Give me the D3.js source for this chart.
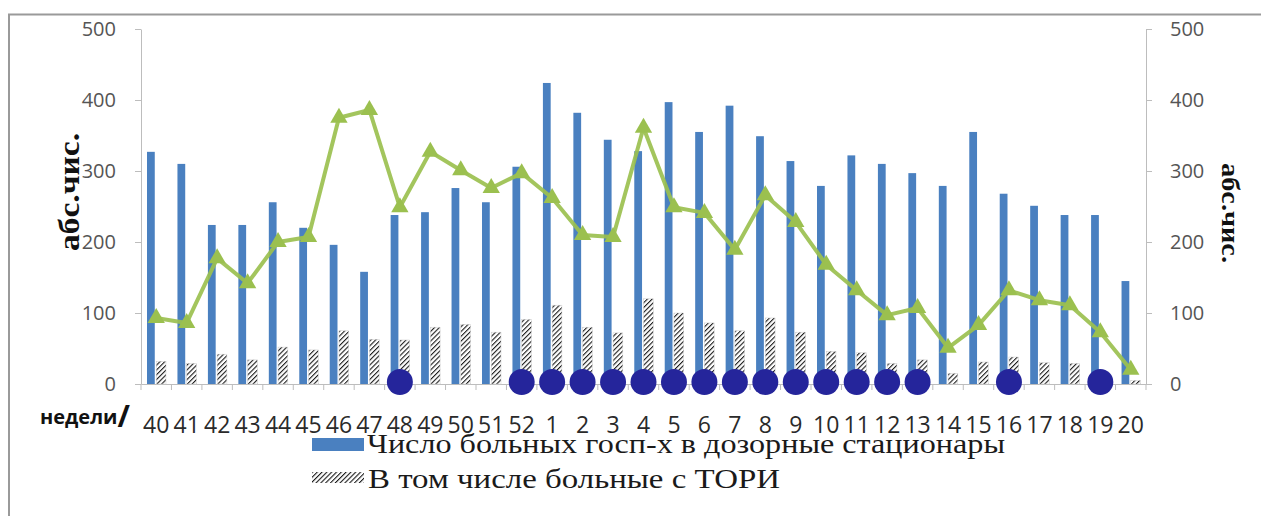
<!DOCTYPE html>
<html>
<head>
<meta charset="utf-8">
<script src="https://cdn.jsdelivr.net/npm/d3@7/dist/d3.min.js"></script>
<style>
  html, body { margin: 0; padding: 0; background: #fff; }
  .axis .domain { stroke: #bdbdbd; }
  .axis line { stroke: #bdbdbd; }
  .y.axis text { font-family: "Open Sans", sans-serif; font-size: 20px; fill: #555; }
  .x.axis text { font-family: "Open Sans", sans-serif; font-size: 23px; fill: #2a2a2a; }
  .axis-title { font-family: "Liberation Serif", serif; font-weight: bold; fill: #111; }
  .legend text { font-family: "Liberation Serif", serif; font-size: 28px; fill: #1a1a1a; }
</style>
</head>
<body>
<div id="chart"></div>
<script>
// weeks of the season (40..52, then 1..20)
var weeks = ["40","41","42","43","44","45","46","47","48","49","50","51","52",
  "1","2","3","4","5","6","7","8","9","10","11","12","13","14","15","16","17","18","19","20"];

// число больных, госпитализированных в дозорные стационары
var hospitalized = [327, 310, 224, 224, 256, 220, 196, 158, 238, 242, 276, 256, 306,
  424, 382, 344, 328, 397, 355, 392, 349, 314, 279, 322, 310, 297, 279, 355, 268, 251, 238, 238, 145];

// в том числе больные с ТОРИ
var withSari = [32, 29, 42, 34, 52, 48, 75, 63, 62, 80, 84, 73, 91,
  111, 80, 72, 120, 100, 86, 75, 93, 73, 46, 44, 29, 34, 15, 31, 38, 30, 29, 10, 5];

// green line (right axis)
var lineValues = [93, 86, 177, 142, 200, 207, 375, 386, 249, 327, 301, 276, 297,
  262, 210, 207, 361, 249, 241, 189, 266, 228, 168, 132, 97, 107, 51, 83, 132, 118, 111, 73, 20];

// weeks marked with a dot on the baseline
var markedWeeks = ["48","52","1","2","3","4","5","6","7","8","9","10","11","12","13","16","19"];

var yTicks = [0, 100, 200, 300, 400, 500];

var legendLabels = [
  "Число больных госп-х в дозорные стационары",
  "В том числе  больные с ТОРИ"
];

var width = 1261, height = 516;
var plot = { left: 141, right: 1146, top: 29, bottom: 384 };

var svg = d3.select("#chart")
  .append("svg")
  .attr("width", width)
  .attr("height", height);

var defs = svg.append("defs");
var hatch = defs.append("pattern")
  .attr("id", "hatch")
  .attr("patternUnits", "userSpaceOnUse")
  .attr("width", 3.4)
  .attr("height", 3.4)
  .attr("patternTransform", "rotate(45)");
hatch.append("rect").attr("width", 3.4).attr("height", 3.4).attr("fill", "#fff");
hatch.append("line")
  .attr("x1", 0).attr("y1", 0).attr("x2", 0).attr("y2", 3.4)
  .attr("stroke", "#1a1a1a").attr("stroke-width", 2.2);

// frame
svg.append("path")
  .attr("d", "M9,516 L9,14.5 L1261,14.5")
  .attr("fill", "none")
  .attr("stroke", "#9a9a9a")
  .attr("stroke-width", 2);

var xScale = d3.scaleBand()
  .domain(weeks)
  .range([plot.left, plot.right]);

var xSub = d3.scaleBand()
  .domain(["hosp", "sari"])
  .range([6, 24])
  .paddingInner(0.05);

var yScale = d3.scaleLinear()
  .domain([0, 500])
  .range([plot.bottom, plot.top]);

// axes
svg.append("g")
  .attr("class", "y axis")
  .attr("transform", `translate(${plot.left},0)`)
  .call(d3.axisLeft(yScale).tickValues(yTicks).tickSize(6).tickSizeOuter(0).tickPadding(19));

svg.append("g")
  .attr("class", "y axis")
  .attr("transform", `translate(${plot.right},0)`)
  .call(d3.axisRight(yScale).tickValues(yTicks).tickSize(6).tickSizeOuter(0).tickPadding(18));

var xAxisG = svg.append("g")
  .attr("class", "x axis")
  .attr("transform", `translate(0,${plot.bottom})`)
  .call(d3.axisBottom(xScale).tickSize(0).tickPadding(33));
xAxisG.select(".domain").attr("stroke", "#aab4c4");

// category boundary ticks
xAxisG.selectAll(".bound")
  .data(weeks.concat(["end"]))
  .enter()
  .append("line")
  .attr("class", "bound")
  .attr("x1", (d, i) => plot.left + i * xScale.bandwidth())
  .attr("x2", (d, i) => plot.left + i * xScale.bandwidth())
  .attr("y1", 0)
  .attr("y2", 6)
  .attr("stroke", "#c8c8c8");

// bars
var groups = svg.append("g")
  .attr("class", "bars")
  .selectAll("g")
  .data(weeks)
  .enter()
  .append("g")
  .attr("transform", d => `translate(${xScale(d)},0)`);

groups.append("rect")
  .attr("x", xSub("hosp"))
  .attr("width", xSub.bandwidth() - 1)
  .attr("y", (d, i) => yScale(hospitalized[i]))
  .attr("height", (d, i) => yScale(0) - yScale(hospitalized[i]))
  .attr("fill", "#4a80c0");

groups.append("rect")
  .attr("x", xSub("sari"))
  .attr("width", xSub.bandwidth() + 1)
  .attr("y", (d, i) => yScale(withSari[i]))
  .attr("height", (d, i) => yScale(0) - yScale(withSari[i]))
  .attr("fill", "url(#hatch)")
  .attr("stroke", "#d0d0d0")
  .attr("stroke-width", 0.5);

// line with triangle markers
var line = d3.line()
  .x((d, i) => xScale(weeks[i]) + xScale.bandwidth() / 2)
  .y(d => yScale(d));

svg.append("path")
  .datum(lineValues)
  .attr("d", line)
  .attr("fill", "none")
  .attr("stroke", "#9bc04f")
  .attr("stroke-width", 4)
  .attr("stroke-linejoin", "round")
  .attr("opacity", 0.92);

svg.append("g")
  .attr("class", "markers")
  .selectAll("path")
  .data(lineValues)
  .enter()
  .append("path")
  .attr("d", d3.symbol(d3.symbolTriangle).size(130))
  .attr("transform", (d, i) => `translate(${xScale(weeks[i]) + xScale.bandwidth() / 2},${yScale(d)})`)
  .attr("fill", "#9bc04f");

// navy dots on the baseline
svg.append("g")
  .attr("class", "dots")
  .selectAll("circle")
  .data(markedWeeks)
  .enter()
  .append("circle")
  .attr("cx", d => xScale(d) + xScale.bandwidth() / 2)
  .attr("cy", yScale(0) - 2)
  .attr("r", 13)
  .attr("fill", "#25259b");

// axis titles
svg.append("text")
  .attr("class", "axis-title")
  .attr("transform", "translate(79,192) rotate(-90)")
  .attr("text-anchor", "middle")
  .attr("font-size", 30)
  .attr("textLength", 118)
  .attr("lengthAdjust", "spacingAndGlyphs")
  .text("абс.чис.");

svg.append("text")
  .attr("class", "axis-title")
  .attr("transform", "translate(1222,213) rotate(90)")
  .attr("text-anchor", "middle")
  .attr("font-size", 26)
  .attr("textLength", 100)
  .attr("lengthAdjust", "spacingAndGlyphs")
  .text("абс.чис.");

svg.append("text")
  .attr("x", 40)
  .attr("y", 424)
  .attr("font-family", "'Open Sans', sans-serif")
  .attr("font-weight", "bold")
  .attr("font-size", 20)
  .attr("fill", "#111")
  .text("недели")
  .append("tspan")
  .attr("font-size", 30)
  .attr("dy", 3)
  .text("/");

// legend
var legend = svg.append("g").attr("class", "legend");
legend.append("rect")
  .attr("x", 312).attr("y", 438).attr("width", 52).attr("height", 13)
  .attr("fill", "#4a80c0");
legend.append("text")
  .attr("x", 367).attr("y", 453)
  .attr("textLength", 638)
  .attr("lengthAdjust", "spacingAndGlyphs")
  .text(legendLabels[0]);
legend.append("rect")
  .attr("x", 312).attr("y", 472).attr("width", 52).attr("height", 11)
  .attr("fill", "url(#hatch)");
legend.append("text")
  .attr("x", 368).attr("y", 488)
  .attr("textLength", 412)
  .attr("lengthAdjust", "spacingAndGlyphs")
  .text(legendLabels[1]);
</script>
</body>
</html>
